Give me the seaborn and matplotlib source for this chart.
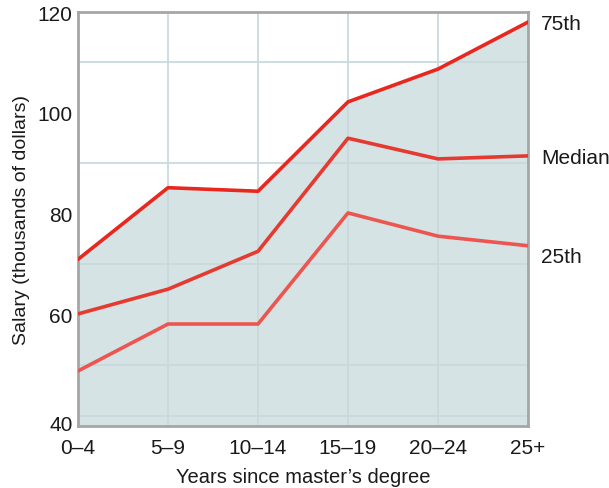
import matplotlib
matplotlib.use("Agg")
import matplotlib.pyplot as plt
import seaborn as sns
import pandas as pd

# Salary percentiles by years since master's degree (thousands of dollars)
periods = ["0–4", "5–9", "10–14", "15–19", "20–24", "25+"]
pct75 = [71.0, 85.2, 84.5, 102.2, 108.7, 118.0]
median = [60.2, 65.1, 72.6, 95.0, 90.9, 91.5]
pct25 = [48.9, 58.2, 58.2, 80.2, 75.6, 73.7]
series_names = ["75th", "Median", "25th"]
ytick_values = [40, 60, 80, 100, 120]

colors = {"75th": "#e8271f", "Median": "#e63a30", "25th": "#ec5550"}
label_offsets = {"75th": -1, "Median": -1.5, "25th": -8}

sns.set_theme(style="white")
plt.rcParams["font.family"] = ["Liberation Sans", "DejaVu Sans"]

df = pd.DataFrame({
    "period": periods * 3,
    "salary": pct75 + median + pct25,
    "series": [n for n in series_names for _ in periods],
})

fig = plt.figure(figsize=(6.09, 4.89), dpi=100)
ax = fig.add_axes([78 / 609, 1 - 427 / 489, 450 / 609, 414 / 489])

ymin, ymax = 38.0, 120.0
xs = list(range(len(periods)))

# shaded band under the 75th percentile
ax.fill_between(xs, ymin, pct75, color="#d5e3e4", zorder=0.2, linewidth=0)

sns.lineplot(data=df, x="period", y="salary", hue="series", palette=colors,
             hue_order=series_names, sort=False, linewidth=2.6, legend=False,
             ax=ax, zorder=3)

ax.set_xlim(0, len(periods) - 1)
ax.set_ylim(ymin, ymax)

ax.set_xticks(xs)
ax.set_xticklabels(periods)
ax.set_yticks(range(40, 121, 10), minor=True)
major_pos = [ymin + 0.6 if v == ytick_values[0] else v for v in ytick_values]
ax.set_yticks(major_pos)
ax.set_yticklabels([str(v) for v in ytick_values])

ax.set_axisbelow(True)
ax.grid(False)
ax.grid(True, which="minor", axis="y", color="#c9dadc", linewidth=1.3)
ax.grid(True, which="major", axis="x", color="#c9dadc", linewidth=1.3)

ax.tick_params(axis="both", which="both", length=0, labelsize=15, colors="#1a1a1a")
ax.tick_params(axis="y", pad=4)
ax.tick_params(axis="x", pad=9)

for s in ax.spines.values():
    s.set_visible(True)
    s.set_color("#a6a6a6")
    s.set_linewidth(2.0)

ax.set_xlabel("Years since master’s degree", fontsize=14.5, color="#1a1a1a", labelpad=7)
ax.set_ylabel("Salary (thousands of dollars)", fontsize=14, color="#1a1a1a", labelpad=5)

ends = {"75th": pct75[-1], "Median": median[-1], "25th": pct25[-1]}
for name in series_names:
    ax.annotate(name, xy=(xs[-1], ends[name]), xytext=(9.5, label_offsets[name]),
                textcoords="offset points", ha="left", va="center",
                fontsize=15, color="#1a1a1a", annotation_clip=False)

fig.savefig("out.png", dpi=100)
